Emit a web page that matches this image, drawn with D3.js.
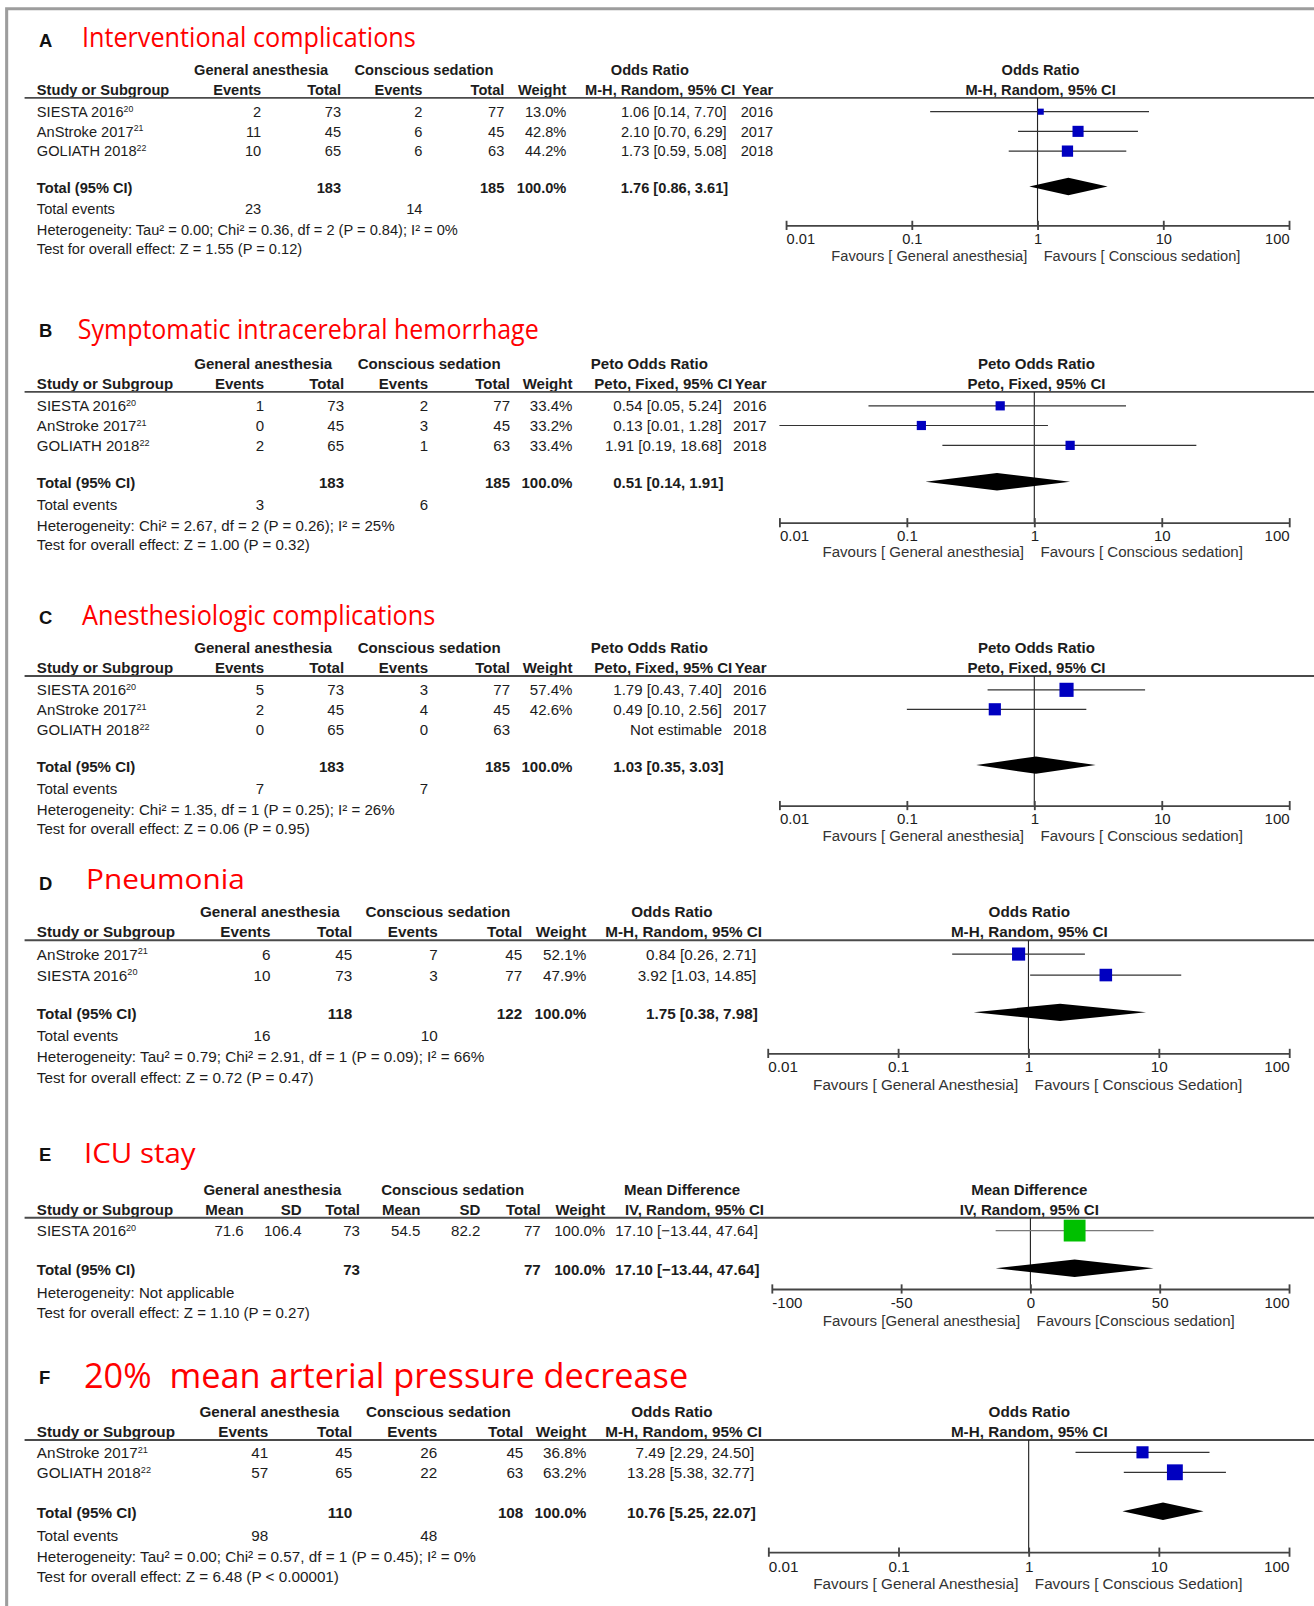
<!DOCTYPE html>
<html>
<head>
<meta charset="utf-8">
<script src="https://cdn.jsdelivr.net/npm/d3@7"></script>
<style>
  html, body { margin: 0; padding: 0; background: #fff; }
  svg { display: block; }
</style>
</head>
<body>
<script>
// ---------------- A: Interventional complications (M-H, Random OR) ----------------
const studiesA  = ["SIESTA 2016", "AnStroke 2017", "GOLIATH 2018"];
const refsA     = ["20", "21", "22"];
const gaEventsA = [2, 11, 10];
const gaTotalA  = [73, 45, 65];
const csEventsA = [2, 6, 6];
const csTotalA  = [77, 45, 63];
const weightA   = [13.0, 42.8, 44.2];
const estA      = [1.06, 2.10, 1.73];
const loA       = [0.14, 0.70, 0.59];
const hiA       = [7.70, 6.29, 5.08];
const yearA     = [2016, 2017, 2018];
const totalsA   = [183, 185];
const pooledA   = [1.76, 0.86, 3.61];
const eventsA   = [23, 14];
const hetA  = "Heterogeneity: Tau² = 0.00; Chi² = 0.36, df = 2 (P = 0.84); I² = 0%";
const testA = "Test for overall effect: Z = 1.55 (P = 0.12)";

// ---------------- B: Symptomatic intracerebral hemorrhage (Peto OR) ----------------
const studiesB  = ["SIESTA 2016", "AnStroke 2017", "GOLIATH 2018"];
const refsB     = ["20", "21", "22"];
const gaEventsB = [1, 0, 2];
const gaTotalB  = [73, 45, 65];
const csEventsB = [2, 3, 1];
const csTotalB  = [77, 45, 63];
const weightB   = [33.4, 33.2, 33.4];
const estB      = [0.54, 0.13, 1.91];
const loB       = [0.05, 0.01, 0.19];
const hiB       = [5.24, 1.28, 18.68];
const yearB     = [2016, 2017, 2018];
const totalsB   = [183, 185];
const pooledB   = [0.51, 0.14, 1.91];
const eventsB   = [3, 6];
const hetB  = "Heterogeneity: Chi² = 2.67, df = 2 (P = 0.26); I² = 25%";
const testB = "Test for overall effect: Z = 1.00 (P = 0.32)";

// ---------------- C: Anesthesiologic complications (Peto OR) ----------------
const studiesC  = ["SIESTA 2016", "AnStroke 2017", "GOLIATH 2018"];
const refsC     = ["20", "21", "22"];
const gaEventsC = [5, 2, 0];
const gaTotalC  = [73, 45, 65];
const csEventsC = [3, 4, 0];
const csTotalC  = [77, 45, 63];
const weightC   = [57.4, 42.6, null];
const estC      = [1.79, 0.49, null];
const loC       = [0.43, 0.10, null];
const hiC       = [7.40, 2.56, null];
const yearC     = [2016, 2017, 2018];
const totalsC   = [183, 185];
const pooledC   = [1.03, 0.35, 3.03];
const eventsC   = [7, 7];
const hetC  = "Heterogeneity: Chi² = 1.35, df = 1 (P = 0.25); I² = 26%";
const testC = "Test for overall effect: Z = 0.06 (P = 0.95)";

// ---------------- D: Pneumonia (M-H, Random OR) ----------------
const studiesD  = ["AnStroke 2017", "SIESTA 2016"];
const refsD     = ["21", "20"];
const gaEventsD = [6, 10];
const gaTotalD  = [45, 73];
const csEventsD = [7, 3];
const csTotalD  = [45, 77];
const weightD   = [52.1, 47.9];
const estD      = [0.84, 3.92];
const loD       = [0.26, 1.03];
const hiD       = [2.71, 14.85];
const totalsD   = [118, 122];
const pooledD   = [1.75, 0.38, 7.98];
const eventsD   = [16, 10];
const hetD  = "Heterogeneity: Tau² = 0.79; Chi² = 2.91, df = 1 (P = 0.09); I² = 66%";
const testD = "Test for overall effect: Z = 0.72 (P = 0.47)";

// ---------------- E: ICU stay (IV, Random mean difference) ----------------
const studiesE  = ["SIESTA 2016"];
const refsE     = ["20"];
const gaMeanE   = ["71.6"];
const gaSdE     = ["106.4"];
const gaTotalE  = [73];
const csMeanE   = ["54.5"];
const csSdE     = ["82.2"];
const csTotalE  = [77];
const weightE   = [100.0];
const estE      = [17.10];
const loE       = [-13.44];
const hiE       = [47.64];
const totalsE   = [73, 77];
const pooledE   = [17.10, -13.44, 47.64];
const hetE  = "Heterogeneity: Not applicable";
const testE = "Test for overall effect: Z = 1.10 (P = 0.27)";

// ---------------- F: 20% mean arterial pressure decrease (M-H, Random OR) ----------------
const studiesF  = ["AnStroke 2017", "GOLIATH 2018"];
const refsF     = ["21", "22"];
const gaEventsF = [41, 57];
const gaTotalF  = [45, 65];
const csEventsF = [26, 22];
const csTotalF  = [45, 63];
const weightF   = [36.8, 63.2];
const estF      = [7.49, 13.28];
const loF       = [2.29, 5.38];
const hiF       = [24.50, 32.77];
const totalsF   = [110, 108];
const pooledF   = [10.76, 5.25, 22.07];
const eventsF   = [98, 48];
const hetF  = "Heterogeneity: Tau² = 0.00; Chi² = 0.57, df = 1 (P = 0.45); I² = 0%";
const testF = "Test for overall effect: Z = 6.48 (P < 0.00001)";

// ---------------- axis ticks ----------------
const orTicks       = [0.01, 0.1, 1, 10, 100];
const orTickLabels  = ["0.01", "0.1", "1", "10", "100"];
const mdTicks       = [-100, -50, 0, 50, 100];
const mdTickLabels  = ["-100", "-50", "0", "50", "100"];

const favLower = ["Favours [ General anesthesia]", "Favours [ Conscious sedation]"];
const favUpper = ["Favours [ General Anesthesia]", "Favours [ Conscious Sedation]"];
const favPlain = ["Favours [General anesthesia]", "Favours [Conscious sedation]"];

// ---------------- panel tables built from the arrays ----------------
function dichRows(st, rf, ge, gt, ce, ct, w, e, lo, hi, yr) {
  return st.map((s, i) => ({
    name: s, ref: rf[i],
    cells: [ge[i], gt[i], ce[i], ct[i]],
    weight: w[i], est: e[i], lo: lo[i], hi: hi[i],
    year: yr ? yr[i] : null
  }));
}

const panels = [
  { letter: "A", title: "Interventional complications", measure: "Odds Ratio", method: "M-H, Random, 95% CI",
    heads: ["Events", "Total", "Events", "Total"], totalCols: [1, 3], hasYear: true, scale: "log",
    rows: dichRows(studiesA, refsA, gaEventsA, gaTotalA, csEventsA, csTotalA, weightA, estA, loA, hiA, yearA),
    totals: totalsA, pooled: pooledA, events: eventsA, het: hetA, test: testA, favours: favLower,
    boxColor: "#0000c0", ciColor: "#333" },
  { letter: "B", title: "Symptomatic intracerebral hemorrhage", measure: "Peto Odds Ratio", method: "Peto, Fixed, 95% CI",
    heads: ["Events", "Total", "Events", "Total"], totalCols: [1, 3], hasYear: true, scale: "log",
    rows: dichRows(studiesB, refsB, gaEventsB, gaTotalB, csEventsB, csTotalB, weightB, estB, loB, hiB, yearB),
    totals: totalsB, pooled: pooledB, events: eventsB, het: hetB, test: testB, favours: favLower,
    boxColor: "#0000c0", ciColor: "#333" },
  { letter: "C", title: "Anesthesiologic complications", measure: "Peto Odds Ratio", method: "Peto, Fixed, 95% CI",
    heads: ["Events", "Total", "Events", "Total"], totalCols: [1, 3], hasYear: true, scale: "log",
    rows: dichRows(studiesC, refsC, gaEventsC, gaTotalC, csEventsC, csTotalC, weightC, estC, loC, hiC, yearC),
    totals: totalsC, pooled: pooledC, events: eventsC, het: hetC, test: testC, favours: favLower,
    boxColor: "#0000c0", ciColor: "#333" },
  { letter: "D", title: "Pneumonia", measure: "Odds Ratio", method: "M-H, Random, 95% CI",
    heads: ["Events", "Total", "Events", "Total"], totalCols: [1, 3], hasYear: false, scale: "log",
    rows: dichRows(studiesD, refsD, gaEventsD, gaTotalD, csEventsD, csTotalD, weightD, estD, loD, hiD, null),
    totals: totalsD, pooled: pooledD, events: eventsD, het: hetD, test: testD, favours: favUpper,
    boxColor: "#0000c0", ciColor: "#333" },
  { letter: "E", title: "ICU stay", measure: "Mean Difference", method: "IV, Random, 95% CI",
    heads: ["Mean", "SD", "Total", "Mean", "SD", "Total"], totalCols: [2, 5], hasYear: false, scale: "linear",
    rows: studiesE.map((s, i) => ({
      name: s, ref: refsE[i],
      cells: [gaMeanE[i], gaSdE[i], gaTotalE[i], csMeanE[i], csSdE[i], csTotalE[i]],
      weight: weightE[i], est: estE[i], lo: loE[i], hi: hiE[i], year: null })),
    totals: totalsE, pooled: pooledE, events: null, het: hetE, test: testE, favours: favPlain,
    boxColor: "#00c000", ciColor: "#7a7a7a" },
  { letter: "F", title: "20%  mean arterial pressure decrease", measure: "Odds Ratio", method: "M-H, Random, 95% CI",
    heads: ["Events", "Total", "Events", "Total"], totalCols: [1, 3], hasYear: false, scale: "log",
    rows: dichRows(studiesF, refsF, gaEventsF, gaTotalF, csEventsF, csTotalF, weightF, estF, loF, hiF, null),
    totals: totalsF, pooled: pooledF, events: eventsF, het: hetF, test: testF, favours: favUpper,
    boxColor: "#0000c0", ciColor: "#333" }
];

// ---------------- page layout (drawing units of the 1283 x 1568 view box) ----------------
const layouts = [
  { letterY: 46, titleY: 46, titleX: 80, titleW: 326, titleSize: 26.5, fs: 14.3,
    head1: 68.3, head2: 87.2, line: 95.5, rows: [109, 128.2, 147.5], total: 183, events: 204.2, het: 224, test: 242.5,
    cols: [255, 333, 412.5, 492.5], w: 553, ci: 709.5, ciHead: 718, year: 755, grp: [255, 414], ciTitle: 634.5,
    fx0: 767.5, fx1: 1258.6, axisY: 220, tickY: 233.5, favY: 250, fHead: 1016, box: 11 },
  { letterY: 329, titleY: 331.3, titleX: 76, titleW: 450, titleSize: 26.5, fs: 14.7,
    head1: 354.7, head2: 374.3, line: 382.6, rows: [396.2, 415.4, 434.8], total: 471.3, events: 493, het: 513, test: 532,
    cols: [258, 336, 418, 498], w: 559, ci: 705, ciHead: 715, year: 748.5, grp: [257, 419], ciTitle: 634,
    fx0: 761, fx1: 1258.8, axisY: 510.3, tickY: 523, favY: 539, fHead: 1012, box: 9 },
  { letterY: 609, titleY: 610, titleX: 80, titleW: 345, titleSize: 26.5, fs: 14.7,
    head1: 632, head2: 651.4, line: 660, rows: [673.5, 692.5, 712], total: 748, events: 770, het: 790, test: 809,
    cols: [258, 336, 418, 498], w: 559, ci: 705, ciHead: 715, year: 748.5, grp: [257, 419], ciTitle: 634,
    fx0: 761, fx1: 1258.8, axisY: 786.5, tickY: 799.5, favY: 816, fHead: 1012, box: 13.8 },
  { letterY: 869, titleY: 868, titleX: 84, titleW: 155, titleSize: 26.5, fs: 14.9,
    head1: 890, head2: 909.7, line: 918, rows: [931.5, 952], total: 989.4, events: 1011.5, het: 1032, test: 1052,
    cols: [264, 344, 427.5, 510], w: 572.5, ci: 738.5, ciHead: 744, grp: [263.5, 427.5], ciTitle: 656,
    fx0: 749.6, fx1: 1258.8, axisY: 1028.5, tickY: 1041.5, favY: 1058.5, fHead: 1005, box: 12.8 },
  { letterY: 1134, titleY: 1136, titleX: 82, titleW: 109, titleSize: 26.5, fs: 14.7,
    head1: 1161.5, head2: 1181, line: 1189, rows: [1201.5], total: 1239.3, events: null, het: 1262, test: 1282,
    cols: [238, 294.5, 351.5, 410.5, 469, 528], w: 591, ci: 740, ciHead: 746, grp: [266, 442], ciTitle: 666,
    fx0: 753.6, fx1: 1258.6, axisY: 1258.5, tickY: 1271.5, favY: 1289, fHead: 1005, box: 21.3 },
  { letterY: 1351, titleY: 1355, titleX: 82, titleW: 590, titleSize: 34, fs: 14.9,
    head1: 1378, head2: 1397.8, line: 1406, rows: [1418, 1437.5], total: 1476.5, events: 1499.5, het: 1519.7, test: 1539.4,
    cols: [262, 344, 427, 511], w: 572.5, ci: 736.5, ciHead: 744, grp: [263, 428], ciTitle: 656,
    fx0: 750.2, fx1: 1258.6, axisY: 1515.5, tickY: 1529.5, favY: 1546.5, fHead: 1005, box: 15.5 }
];

const FONT = "'Liberation Sans', Arial, Helvetica, sans-serif";
const TITLE_FONT = "'Open Sans', 'Noto Sans', sans-serif";
const INK = "#1c1c1c";

const svg = d3.select("body").append("svg")
  .attr("width", 1314).attr("height", 1606)
  .attr("viewBox", "0 0 1283 1568");

svg.append("rect").attr("width", 1283).attr("height", 1568).attr("fill", "#fff");

// frame on the top and left edges
svg.append("path")
  .attr("d", "M6.5,1568 V8.5 H1283")
  .attr("fill", "none").attr("stroke", "#9d9d9d").attr("stroke-width", 3);

// text placed by its vertical centre
function addText(g, x, yc, str, o) {
  const fs = o.size;
  return g.append("text")
    .attr("x", x).attr("y", yc + fs * 0.36)
    .attr("text-anchor", o.anchor || "start")
    .attr("font-family", FONT)
    .attr("font-size", fs)
    .attr("font-weight", o.bold ? "bold" : "normal")
    .attr("fill", o.fill || INK)
    .text(str);
}

const fmt2 = d3.format(".2f");
const ciText = (e, lo, hi) => `${fmt2(e)} [${fmt2(lo)}, ${fmt2(hi)}]`;

function drawPanel(p, L) {
  const g = svg.append("g");
  const fs = L.fs;
  const reg = { size: fs };
  const bold = { size: fs, bold: true };

  // panel letter and red heading
  g.append("text")
    .attr("x", 38).attr("y", L.letterY)
    .attr("font-family", FONT).attr("font-weight", "bold").attr("font-size", 18)
    .attr("fill", "#111").text(p.letter);
  g.append("text")
    .attr("x", L.titleX).attr("y", L.titleY)
    .attr("font-family", TITLE_FONT).attr("font-size", L.titleSize)
    .attr("fill", "#ff0000")
    .style("white-space", "pre")
    .attr("textLength", L.titleW).attr("lengthAdjust", "spacingAndGlyphs")
    .text(p.title);

  // table header
  addText(g, L.grp[0], L.head1, "General anesthesia", { ...bold, anchor: "middle" });
  addText(g, L.grp[1], L.head1, "Conscious sedation", { ...bold, anchor: "middle" });
  addText(g, L.ciTitle, L.head1, p.measure, { ...bold, anchor: "middle" });
  addText(g, 36, L.head2, "Study or Subgroup", bold);
  p.heads.forEach((h, j) => addText(g, L.cols[j], L.head2, h, { ...bold, anchor: "end" }));
  addText(g, L.w, L.head2, "Weight", { ...bold, anchor: "end" });
  addText(g, L.ciHead, L.head2, p.method, { ...bold, anchor: "end" });
  if (p.hasYear) addText(g, L.year, L.head2, "Year", { ...bold, anchor: "end" });

  // plot header
  addText(g, L.fHead, L.head1, p.measure, { ...bold, anchor: "middle" });
  addText(g, L.fHead, L.head2, p.method, { ...bold, anchor: "middle" });

  g.append("line")
    .attr("x1", 24).attr("x2", 1283).attr("y1", L.line).attr("y2", L.line)
    .attr("stroke", "#4a4a4a").attr("stroke-width", 1.8);

  // study rows
  p.rows.forEach((r, i) => {
    const y = L.rows[i];
    const t = addText(g, 36, y, r.name, reg);
    t.append("tspan").attr("dy", -5).attr("font-size", fs * 0.6).text(r.ref);
    r.cells.forEach((v, j) => addText(g, L.cols[j], y, String(v), { ...reg, anchor: "end" }));
    if (r.weight != null) addText(g, L.w, y, r.weight.toFixed(1) + "%", { ...reg, anchor: "end" });
    addText(g, L.ci, y, r.est == null ? "Not estimable" : ciText(r.est, r.lo, r.hi), { ...reg, anchor: "end" });
    if (p.hasYear) addText(g, L.year, y, String(r.year), { ...reg, anchor: "end" });
  });

  // pooled row
  addText(g, 36, L.total, "Total (95% CI)", bold);
  addText(g, L.cols[p.totalCols[0]], L.total, String(p.totals[0]), { ...bold, anchor: "end" });
  addText(g, L.cols[p.totalCols[1]], L.total, String(p.totals[1]), { ...bold, anchor: "end" });
  addText(g, L.w, L.total, "100.0%", { ...bold, anchor: "end" });
  addText(g, L.ci + 1.5, L.total, ciText(...p.pooled), { ...bold, anchor: "end" });

  if (p.events) {
    addText(g, 36, L.events, "Total events", reg);
    addText(g, L.cols[0], L.events, String(p.events[0]), { ...reg, anchor: "end" });
    addText(g, L.cols[2], L.events, String(p.events[1]), { ...reg, anchor: "end" });
  }
  addText(g, 36, L.het, p.het, reg);
  addText(g, 36, L.test, p.test, reg);

  // forest plot
  const x = p.scale === "log"
    ? d3.scaleLog().domain([0.01, 100]).range([L.fx0, L.fx1])
    : d3.scaleLinear().domain([-100, 100]).range([L.fx0, L.fx1]);
  const ticks = p.scale === "log" ? orTicks : mdTicks;
  const tickLabels = p.scale === "log" ? orTickLabels : mdTickLabels;
  const nullValue = p.scale === "log" ? 1 : 0;
  const xn = x(nullValue);

  g.append("line")
    .attr("x1", xn).attr("x2", xn).attr("y1", L.line).attr("y2", L.axisY)
    .attr("stroke", "#222").attr("stroke-width", 1.1);

  const axis = d3.axisBottom(x)
    .tickValues(ticks)
    .tickFormat((d, i) => tickLabels[i])
    .tickSizeOuter(0).tickSizeInner(4.5);
  const ag = g.append("g")
    .attr("transform", `translate(0,${L.axisY})`)
    .call(axis)
    .attr("font-family", FONT).attr("font-size", fs);
  ag.select(".domain").attr("stroke", "#444").attr("stroke-width", 1.8);
  ag.selectAll(".tick line")
    .attr("y1", -4.5).attr("y2", 4.5)
    .attr("stroke", "#444").attr("stroke-width", 1.8);
  ag.selectAll(".tick text")
    .attr("y", L.tickY - L.axisY).attr("dy", "0.36em")
    .attr("fill", INK)
    .attr("text-anchor", (d, i) => i === 0 ? "start" : (i === ticks.length - 1 ? "end" : "middle"));

  const maxW = d3.max(p.rows, r => r.weight || 0);
  p.rows.forEach((r, i) => {
    if (r.est == null) return;
    const y = L.rows[i];
    g.append("line")
      .attr("x1", x(r.lo)).attr("x2", x(r.hi)).attr("y1", y).attr("y2", y)
      .attr("stroke", p.ciColor).attr("stroke-width", 1.2);
    const s = L.box * Math.sqrt(r.weight / maxW);
    g.append("rect")
      .attr("x", x(r.est) - s / 2).attr("y", y - s / 2)
      .attr("width", s).attr("height", s)
      .attr("fill", p.boxColor);
  });

  const [pe, plo, phi] = p.pooled;
  const yd = L.total - 1;
  g.append("path")
    .attr("d", `M${x(plo)},${yd} L${x(pe)},${yd - 8.5} L${x(phi)},${yd} L${x(pe)},${yd + 8.5} Z`)
    .attr("fill", "#000");

  addText(g, xn - 10, L.favY, p.favours[0], { ...reg, anchor: "end", fill: "#333" });
  addText(g, xn + 6, L.favY, p.favours[1], { ...reg, fill: "#333" });
}

panels.forEach((p, i) => drawPanel(p, layouts[i]));
</script>
</body>
</html>
